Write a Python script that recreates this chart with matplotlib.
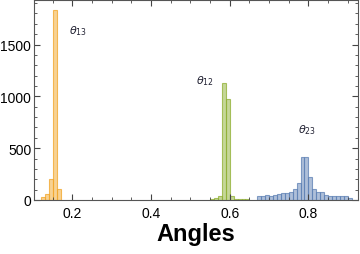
import matplotlib
matplotlib.use('Agg')
import matplotlib.pyplot as plt
from matplotlib.colors import to_rgba
from matplotlib.ticker import MultipleLocator

# histogram data: left bin edges and counts (bin width 0.01)
bin_width = 0.01
theta13_edges = [0.12, 0.13, 0.14, 0.15, 0.16]
theta13_counts = [26, 58, 199, 1833, 103]

theta12_edges = [0.55, 0.56, 0.57, 0.58, 0.59, 0.60, 0.61, 0.62, 0.63, 0.64]
theta12_counts = [5, 15, 35, 1132, 978, 38, 10, 8, 8, 5]

theta23_edges = [0.67, 0.68, 0.69, 0.70, 0.71, 0.72, 0.73, 0.74, 0.75, 0.76, 0.77, 0.78,
                 0.79, 0.80, 0.81, 0.82, 0.83, 0.84, 0.85, 0.86, 0.87, 0.88, 0.89, 0.90]
theta23_counts = [36, 38, 45, 40, 45, 55, 72, 67, 80, 108, 166, 413,
                  413, 220, 106, 80, 80, 48, 38, 38, 38, 38, 38, 19]

series = [
    (theta13_edges, theta13_counts, '#F2A628', r'$\theta_{13}$', (0.2145, 1635)),
    (theta12_edges, theta12_counts, '#8FB032', r'$\theta_{12}$', (0.537, 1157)),
    (theta23_edges, theta23_counts, '#5E81B5', r'$\theta_{23}$', (0.797, 683)),
]

fig = plt.figure(figsize=(3.6, 2.55), dpi=100)
ax = fig.add_axes([34 / 360, 1 - 201 / 255, 324 / 360, 200 / 255])

for edges, counts, col, label, pos in series:
    ax.bar(edges, counts, width=bin_width, align='edge',
           facecolor=to_rgba(col, 0.5), edgecolor=to_rgba(col, 0.75), linewidth=0.8)
    ax.text(pos[0], pos[1], label, fontsize=8, color='#222233', ha='center', va='center')

ax.set_xlim(0.1026, 0.926)
ax.set_ylim(0, 1930)

ax.xaxis.set_major_locator(MultipleLocator(0.2))
ax.xaxis.set_minor_locator(MultipleLocator(0.05))
ax.yaxis.set_major_locator(MultipleLocator(500))
ax.yaxis.set_minor_locator(MultipleLocator(100))
ax.tick_params(which='both', direction='in', top=True, right=True, color='#444444',
               labelsize=10, labelcolor='black')
ax.tick_params(which='major', length=4.5, width=0.8)
ax.tick_params(which='minor', length=2.5, width=0.6)
ax.tick_params(axis='x', pad=4)
ax.tick_params(axis='y', pad=2)
for lbl in ax.get_xticklabels() + ax.get_yticklabels():
    lbl.set_family('Liberation Sans')

for sp in ax.spines.values():
    sp.set_color('#555555')
    sp.set_linewidth(0.8)

ax.set_xlabel('Angles', fontsize=17, fontweight='bold', family='Liberation Sans', labelpad=2)

plt.savefig('out.png', dpi=100)
